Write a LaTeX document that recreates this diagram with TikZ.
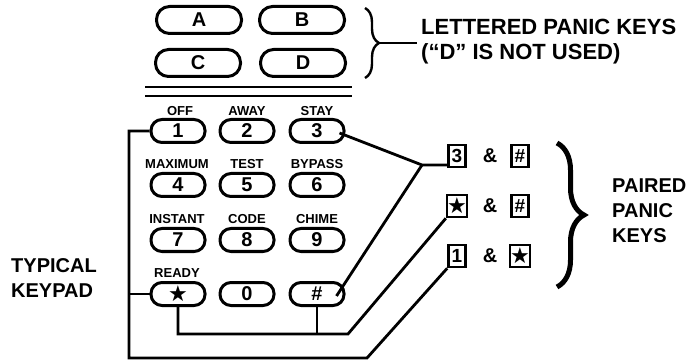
\documentclass[tikz,border=0pt]{standalone}
\usepackage{fontspec}
\setmainfont{Liberation Sans}
\newfontfamily\symfont{DejaVu Sans}
\usetikzlibrary{decorations.pathreplacing,positioning}

\begin{document}
\begin{tikzpicture}[x=1pt, y=-1pt,
    key/.style={rectangle, draw, rounded corners=11pt, line width=3pt, minimum width=54pt, minimum height=23pt, inner sep=0pt, font=\bfseries\fontsize{20}{20}\selectfont},
    bigkey/.style={key, rounded corners=13pt, minimum width=85pt, minimum height=27pt},
    lbl/.style={inner sep=0pt, font=\bfseries\fontsize{13}{13}\selectfont},
    pbox/.style={rectangle, draw, line width=2.6pt, minimum width=17pt, minimum height=22pt, inner sep=0pt, font=\bfseries\fontsize{19}{19}\selectfont},
    txt/.style={align=left, inner sep=0pt, font=\bfseries\fontsize{20}{25}\selectfont},
    star/.style={font=\symfont\fontsize{22}{22}\selectfont},
    wire/.style={line width=2.8pt}]

    \useasboundingbox (0,0) rectangle (690,363);

    % lettered panic keys
    \node[bigkey] (ka) at (199,20) {A};
    \node[bigkey] (kb) at (302,20) {B};
    \node[bigkey] (kc) at (198,63) {C};
    \node[bigkey] (kd) at (303,63) {D};
    \draw[line width=2.8pt] (145,87) -- (352,87);
    \draw[line width=2.8pt] (145,96) -- (352,96);

    \draw[line width=2.4pt, decorate, decoration={brace, amplitude=14pt}] (365,8) -- (365,78);
    \coordinate (ltip) at (380,43);
    \node[txt, anchor=west, font=\bfseries\fontsize{22}{25}\selectfont] (lett) at (421,42) {LETTERED PANIC KEYS\\(“D” IS NOT USED)};
    \draw[wire] (ltip) -- ([xshift=-4pt]ltip -| lett.west);

    % keypad
    \node[lbl] (loff) at (180,111) {OFF};
    \node[lbl] (laway) at (247,111) {AWAY};
    \node[lbl] (lstay) at (317,111) {STAY};
    \node[key] (k1) at (178,131) {1};
    \node[key] (k2) at (247,131) {2};
    \node[key] (k3) at (317,131) {3};

    \node[lbl] (lmax) at (177,164) {MAXIMUM};
    \node[lbl] (ltest) at (247,164) {TEST};
    \node[lbl] (lbyp) at (317,164) {BYPASS};
    \node[key] (k4) at (178,185) {4};
    \node[key] (k5) at (247,185) {5};
    \node[key] (k6) at (317,185) {6};

    \node[lbl] (linst) at (177,219) {INSTANT};
    \node[lbl] (lcode) at (247,219) {CODE};
    \node[lbl] (lchime) at (317,219) {CHIME};
    \node[key] (k7) at (178,240) {7};
    \node[key] (k8) at (247,240) {8};
    \node[key] (k9) at (317,240) {9};

    \node[lbl] (lready) at (177,273) {READY};
    \node[key, star] (kstar) at (178,294) {★};
    \node[key] (k0) at (247,294) {0};
    \node[key] (khash) at (317,294) {\#};

    \node[txt, anchor=west] (typ) at (11,278) {TYPICAL\\KEYPAD};

    % paired panic keys
    \node[pbox] (p3a) at (457,156) {3};
    \node[txt] (amp1) at (490,156) {\&};
    \node[pbox] (p3b) at (520,156) {\#};
    \node[pbox, star] (psa) at (457,206) {★};
    \node[txt] (amp2) at (490,206) {\&};
    \node[pbox] (psb) at (520,206) {\#};
    \node[pbox] (p1a) at (457,256) {1};
    \node[txt] (amp3) at (490,256) {\&};
    \node[pbox, star] (p1b) at (520,256) {★};

    \draw[line width=5pt, decorate, decoration={brace, amplitude=27pt}] (557,143) -- (557,287);
    \node[txt, anchor=west] (paired) at (612,211) {PAIRED\\PANIC\\KEYS};

    % connections
    \coordinate (jn) at (422,165);
    \coordinate (ibend) at (348,334);
    \coordinate (obot) at (129,358);
    \coordinate (obend) at (367,358);
    \draw[wire] ([xshift=-6pt, yshift=-2pt]k3.east) -- (jn) -- (jn -| p3a.west);
    \draw[wire] (jn) -- ([xshift=-9pt, yshift=-2pt]khash.east);
    \draw[wire] (kstar.south) |- (ibend) -- (psa.south west);
    \draw[wire] (khash.south) -- (khash.south |- ibend);
    \draw[wire] (k1.west) -| (obot) -- (obend) -- (p1a.south west);
    \draw[wire] (kstar.west) -- (kstar.west -| obot);
\end{tikzpicture}
\end{document}
